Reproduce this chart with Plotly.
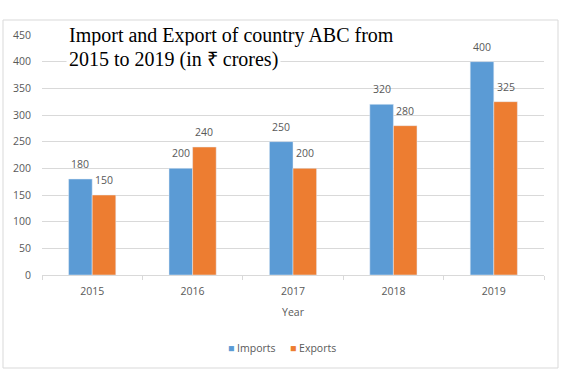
import plotly.graph_objects as go

years = ["2015", "2016", "2017", "2018", "2019"]
imports = [180, 200, 250, 320, 400]
exports = [150, 240, 200, 280, 325]
series_names = ["Imports", "Exports"]
title_line1 = "Import and Export of country ABC from"
title_line2 = "2015 to 2019 (in \u20b9 crores)"

W, H = 579, 384
L, R, T, B = 42, 544, 35, 275
pw, ph = R - L, B - T
BLUE, ORANGE = "#5B9BD5", "#ED7D31"

def px_x(x):
    return (x - L) / pw

def px_y(y):
    return (B - y) / ph

tick_font = dict(family="Open Sans, sans-serif", size=10.5, color="#595959")
BARGAP = 0.53
bar_px = (1 - BARGAP) / 2 * pw / len(years)

fig = go.Figure()
fig.add_trace(go.Bar(x=years, y=imports, name=series_names[0], marker_color=BLUE, hoverinfo="skip"))
fig.add_trace(go.Bar(x=years, y=exports, name=series_names[1], marker_color=ORANGE, hoverinfo="skip"))

# data labels (x as category index on the category axis)
for vals, sgn in ((imports, -1), (exports, 1)):
    for i, v in enumerate(vals):
        fig.add_annotation(x=i, y=v, text=str(v), showarrow=False, xref="x", yref="y",
                           xshift=sgn * bar_px / 2, yshift=15, yanchor="middle",
                           font=tick_font)

fig.update_layout(
    width=W, height=H,
    margin=dict(l=L, r=W - R, t=T, b=H - B),
    paper_bgcolor="white", plot_bgcolor="white",
    barmode="group", bargap=BARGAP, bargroupgap=0,
    showlegend=False,
    xaxis=dict(type="category", range=[-0.5, len(years) - 0.5], showgrid=False,
               showline=True, linecolor="#D9D9D9",
               ticks="outside", tickson="boundaries", ticklen=4, tickcolor="#D9D9D9",
               tickfont=tick_font, ticklabelstandoff=6, tickangle=0,
               title=dict(text="Year", font=tick_font, standoff=12)),
    yaxis=dict(range=[0, 450], dtick=50, showgrid=True, gridcolor="#D9D9D9", gridwidth=1,
               showline=False, zeroline=False, tickfont=tick_font, ticklabelstandoff=10),
    font=tick_font,
)

# chart border
fig.add_shape(type="rect", xref="paper", yref="paper",
              x0=px_x(3), x1=px_x(558), y0=px_y(368), y1=px_y(20),
              line=dict(color="#D9D9D9", width=1), fillcolor="rgba(0,0,0,0)", layer="below")

# legend (manual, Excel-like compact markers)
fig.add_annotation(text=f'<span style="color:{BLUE}">\u25a0</span> {series_names[0]}',
                   xref="paper", yref="paper", x=px_x(226), y=px_y(348),
                   xanchor="left", yanchor="middle", showarrow=False, font=tick_font)
fig.add_annotation(text=f'<span style="color:{ORANGE}">\u25a0</span> {series_names[1]}',
                   xref="paper", yref="paper", x=px_x(288), y=px_y(348),
                   xanchor="left", yanchor="middle", showarrow=False, font=tick_font)

title_font = dict(family="Liberation Serif, Times New Roman, serif", size=20, color="black")
fig.add_annotation(text=title_line1, xref="paper", yref="paper", x=px_x(66), y=px_y(35),
                   xanchor="left", yanchor="middle", showarrow=False, font=title_font,
                   bgcolor="white", borderpad=2)
fig.add_annotation(text=title_line2, xref="paper", yref="paper", x=px_x(66), y=px_y(60),
                   xanchor="left", yanchor="middle", showarrow=False, font=title_font,
                   bgcolor="white", borderpad=2)

fig.write_html("out.html", config={"displayModeBar": False},
               post_script="document.body.style.margin='0';")
